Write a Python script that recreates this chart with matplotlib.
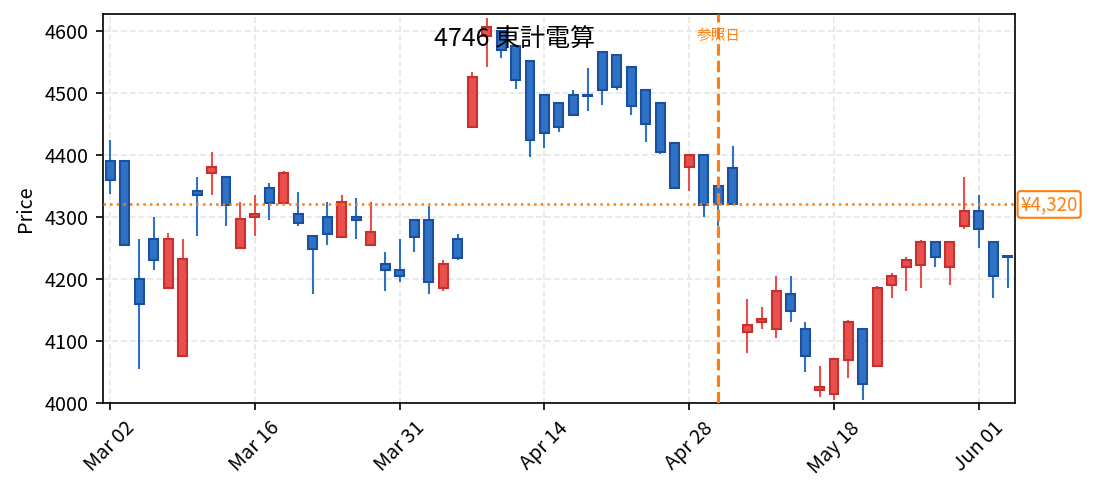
import matplotlib
matplotlib.use('Agg')
import matplotlib.pyplot as plt
import matplotlib.transforms as mtransforms
import numpy as np
import pandas as pd

plt.rcParams['font.family'] = ['Noto Sans CJK JP', 'DejaVu Sans']

# trading days (TSE, 2020) and OHLC values
holidays = ['2020-03-20', '2020-04-29', '2020-05-04', '2020-05-05', '2020-05-06']
dates = pd.bdate_range('2020-03-02', '2020-06-03', freq='C', holidays=holidays)

opens = [4390, 4390, 4200, 4265, 4185, 4075, 4341, 4370, 4365, 4250,
         4300, 4346, 4323, 4305, 4269, 4300, 4268, 4300, 4254, 4224,
         4214, 4295, 4295, 4185, 4264, 4445, 4592, 4600, 4575, 4551,
         4496, 4484, 4496, 4496, 4565, 4561, 4541, 4505, 4484, 4419,
         4380, 4400, 4350, 4379, 4115, 4131, 4119, 4176, 4119, 4021,
         4015, 4070, 4119, 4060, 4190, 4219, 4223, 4260, 4219, 4285,
         4310, 4260, 4236]
highs = [4424, 4390, 4264, 4300, 4274, 4264, 4365, 4405, 4365, 4324,
         4335, 4355, 4374, 4340, 4269, 4324, 4335, 4330, 4324, 4244,
         4264, 4295, 4318, 4230, 4273, 4534, 4620, 4600, 4575, 4551,
         4496, 4484, 4505, 4540, 4565, 4561, 4541, 4505, 4484, 4419,
         4400, 4400, 4350, 4414, 4168, 4154, 4204, 4204, 4130, 4059,
         4071, 4134, 4119, 4189, 4209, 4235, 4263, 4260, 4260, 4364,
         4335, 4260, 4239]
lows = [4337, 4255, 4055, 4215, 4185, 4075, 4269, 4335, 4285, 4250,
        4269, 4295, 4323, 4285, 4175, 4255, 4268, 4264, 4254, 4180,
        4195, 4244, 4175, 4180, 4230, 4445, 4541, 4556, 4506, 4396,
        4411, 4436, 4465, 4470, 4480, 4505, 4465, 4420, 4401, 4346,
        4341, 4300, 4286, 4320, 4080, 4120, 4105, 4130, 4050, 4010,
        4005, 4040, 4005, 4059, 4169, 4181, 4185, 4219, 4191, 4281,
        4250, 4169, 4185]
closes = [4360, 4255, 4160, 4231, 4265, 4232, 4336, 4380, 4319, 4296,
          4305, 4323, 4370, 4290, 4249, 4273, 4324, 4295, 4275, 4214,
          4205, 4268, 4195, 4224, 4234, 4525, 4606, 4569, 4520, 4424,
          4435, 4445, 4465, 4495, 4505, 4510, 4479, 4450, 4405, 4346,
          4400, 4319, 4320, 4320, 4126, 4136, 4181, 4149, 4075, 4026,
          4071, 4131, 4030, 4185, 4205, 4231, 4260, 4235, 4260, 4310,
          4280, 4204, 4235]

ref_date = '2020-05-01'
ref_price = 4320
title = '4746 東計電算'
tick_idx = [0, 10, 20, 30, 40, 50, 60]

o = np.array(opens)
h = np.array(highs)
l = np.array(lows)
c = np.array(closes)
x = np.arange(len(dates))
up = c >= o

fig = plt.figure(figsize=(10.93 / 1.5, 4.91 / 1.5), dpi=150)
ax = fig.add_axes([0.0942, 0.1792, 0.8344, 0.7923])

red_f, red_e = '#e84f4d', '#c8302e'
blue_f, blue_e = '#2e72c6', '#1d4f9f'

ax.vlines(x[up], l[up], h[up], color=red_f, lw=1.0, zorder=2)
ax.vlines(x[~up], l[~up], h[~up], color=blue_f, lw=1.0, zorder=2)
body_lo = np.minimum(o, c)
body_h = np.maximum(np.abs(c - o), 1.5)
ax.bar(x[up], body_h[up], bottom=body_lo[up], width=0.62,
       color=red_f, edgecolor=red_e, linewidth=1.0, zorder=3)
ax.bar(x[~up], body_h[~up], bottom=body_lo[~up], width=0.62,
       color=blue_f, edgecolor=blue_e, linewidth=1.0, zorder=3)

# reference day and reference price
ri = list(dates).index(pd.Timestamp(ref_date))
ax.axvline(ri, color='#ff7f0e', ls='--', lw=1.5, zorder=4)
ax.text(ri, 4592, '参照日', color='#ff7f0e', fontsize=7, ha='center', va='center', zorder=5)
ax.axhline(ref_price, color='#ff7f0e', ls=':', lw=1.2, zorder=4)
trans = mtransforms.blended_transform_factory(ax.transAxes, ax.transData)
ax.text(1.006, ref_price, '¥{:,}'.format(ref_price), transform=trans, color='#ff7f0e',
        fontsize=9, ha='left', va='center', clip_on=False,
        bbox=dict(boxstyle='round,pad=0.15', fc='white', ec='#ff7f0e', lw=1.0))

ax.set_xlim(-0.5, len(dates) - 0.5)
ax.set_ylim(4000, 4627)
ax.set_xticks(tick_idx)
ax.set_xticklabels([dates[i].strftime('%b %d') for i in tick_idx], rotation=45)
ax.set_yticks([4000, 4100, 4200, 4300, 4400, 4500, 4600])
ax.tick_params(labelsize=9.5)
ax.set_ylabel('Price', fontsize=9.5)
ax.grid(True, ls='--', color='#e6e6e6', lw=0.8, zorder=0)
ax.set_axisbelow(True)

fig.text(514.5 / 1093, 1 - 40 / 491, title, fontsize=12, ha='center', va='center')

fig.savefig('out.png', dpi=150)
